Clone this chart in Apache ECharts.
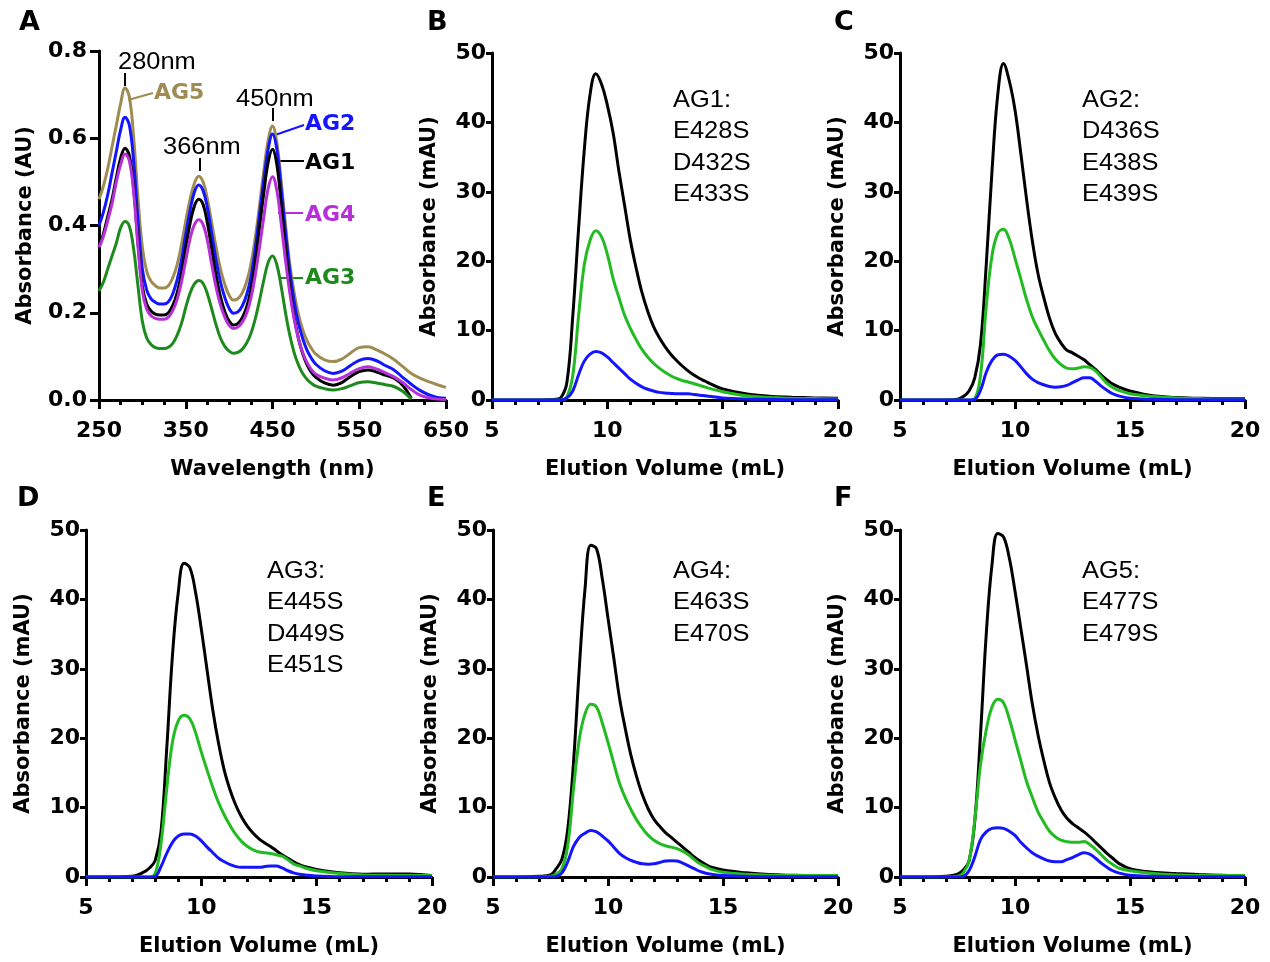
<!DOCTYPE html>
<html>
<head>
<meta charset="utf-8">
<script src="https://cdn.jsdelivr.net/npm/echarts@6/dist/echarts.min.js"></script>
<style>
html,body{margin:0;padding:0;background:#fff;}
#chart{width:1270px;height:962px;}
</style>
</head>
<body>
<div id="chart"></div>
<script>
// ---------- Panel A: absorbance spectra ----------
const wavelengthNm = [250,255,260,265,270,275,280,285,290,295,300,305,310,315,320,325,330,335,340,345,350,355,360,365,370,375,380,385,390,395,400,405,410,415,420,425,430,435,440,445,450,455,460,465,470,475,480,485,490,495,500,510,520,530,540,550,560,570,580,590,600,610,620,630,640,650];
const specAG5 = [.46,.49,.53,.58,.63,.68,.715,.695,.60,.46,.35,.295,.272,.262,.257,.257,.262,.28,.31,.355,.41,.46,.497,.513,.50,.46,.405,.35,.30,.265,.24,.229,.232,.245,.27,.31,.37,.445,.525,.595,.628,.59,.50,.40,.31,.245,.195,.16,.135,.118,.105,.092,.088,.094,.108,.12,.122,.115,.105,.093,.077,.061,.05,.042,.035,.029];
const specAG2 = [.40,.43,.47,.52,.57,.62,.648,.63,.545,.41,.30,.252,.232,.224,.22,.22,.225,.243,.275,.32,.38,.435,.477,.493,.48,.44,.38,.32,.27,.235,.21,.199,.202,.215,.24,.28,.345,.425,.505,.575,.61,.575,.485,.385,.295,.225,.175,.14,.113,.095,.082,.067,.061,.066,.079,.091,.095,.09,.079,.069,.052,.036,.022,.012,.006,.004];
const specAG1 = [.35,.38,.42,.46,.51,.555,.577,.56,.485,.36,.26,.22,.204,.197,.195,.195,.2,.217,.245,.29,.35,.405,.445,.46,.448,.405,.345,.285,.237,.203,.181,.172,.175,.188,.212,.252,.315,.395,.475,.545,.575,.54,.45,.35,.26,.19,.14,.105,.08,.063,.052,.039,.034,.04,.054,.065,.069,.064,.057,.05,.034,.004,null,null,null,null];
const specAG4 = [.35,.375,.41,.45,.50,.54,.564,.548,.475,.35,.25,.208,.193,.187,.185,.185,.19,.205,.23,.27,.32,.37,.402,.413,.402,.365,.31,.258,.218,.19,.171,.164,.167,.178,.198,.232,.285,.35,.42,.485,.512,.48,.405,.32,.245,.185,.14,.108,.085,.069,.059,.05,.046,.051,.062,.072,.076,.071,.062,.053,.04,.024,.011,.005,.002,.001];
const specAG3 = [.25,.27,.30,.33,.36,.395,.409,.398,.345,.26,.18,.142,.127,.12,.118,.118,.121,.13,.148,.175,.212,.245,.266,.274,.267,.243,.208,.172,.142,.123,.112,.107,.109,.116,.13,.152,.185,.228,.275,.315,.33,.31,.26,.2,.148,.108,.08,.06,.047,.038,.032,.026,.023,.026,.033,.04,.042,.039,.035,.031,.02,.002,null,null,null,null];
const specNames = ['AG5','AG2','AG1','AG4','AG3'];
const peakLabels = ['280nm','366nm','450nm'];

// ---------- Panels B-F: elution profiles ----------
const elutionMl = [5,6,7,7.5,7.75,8,8.25,8.5,8.75,9,9.25,9.5,9.75,10,10.25,10.5,10.75,11,11.25,11.5,11.75,12,12.25,12.5,12.75,13,13.25,13.5,13.75,14,14.25,14.5,15,16,17,18,19,20];
const B_black = [0,0,0,0.05,0.1,0.4,2.6,12,24.5,36,44,47,45.5,42.5,38.5,33,28,23,19,15.5,12.8,10.6,9.0,7.7,6.6,5.7,4.9,4.2,3.6,3.1,2.7,2.3,1.6,0.9,0.55,0.4,0.3,0.25];
const B_green = [0,0,0,0,0,0,0.5,3.5,12,19.5,23,24.4,23.5,21,17.5,14.8,12.2,10.3,8.7,7.3,6.2,5.3,4.6,4.0,3.5,3.1,2.8,2.6,2.35,2.1,1.85,1.6,1.2,0.6,0.35,0.25,0.2,0.15];
const B_blue  = [0,0,0,0,0,0,0.3,1.3,3.6,5.6,6.6,7.0,6.8,6.2,5.4,4.6,3.8,3.0,2.4,1.9,1.55,1.3,1.1,1.0,0.95,0.9,0.9,0.9,0.8,0.7,0.6,0.5,0.3,0.15,0.1,0.05,0.05,0.05];
const C_black = [0,0,0,0.1,0.5,1.3,3.2,8,19.5,33,44,48.5,46,41.8,35.6,29,23,18.2,14.8,11.8,9.6,8.2,7.2,6.8,6.3,5.8,5.1,4.4,3.6,2.9,2.3,1.9,1.3,0.6,0.35,0.25,0.2,0.2];
const C_green = [0,0,0,0,0,0,0.2,3.5,13.5,20.8,24,24.6,23.2,20.4,17.5,14.5,12,10.2,8.6,7.1,5.9,5.1,4.6,4.5,4.6,4.8,4.7,4.2,3.3,2.4,1.8,1.4,0.9,0.5,0.3,0.2,0.15,0.15];
const C_blue  = [0,0,0,0,0,0,0.1,1.4,4.0,5.7,6.5,6.6,6.3,5.7,4.8,3.8,3.0,2.5,2.2,1.95,1.85,1.9,2.1,2.5,2.9,3.2,3.2,2.7,2.0,1.4,0.9,0.6,0.25,0.1,0.05,0.05,0.05,0.05];
const D_black = [0,0,0.1,0.7,1.3,2.4,6.5,18.5,32,41,45.2,44.6,41,35.7,29.8,24,19.2,15.3,12.5,10.3,8.6,7.3,6.3,5.5,4.9,4.4,3.8,3.2,2.7,2.2,1.8,1.5,1.1,0.6,0.4,0.45,0.45,0.2];
const D_green = [0,0,0,0,0,0.5,4.8,12.7,19.5,22.5,23.3,22.8,20.8,18,15.4,12.9,10.7,8.9,7.4,6.1,5.1,4.4,3.9,3.6,3.5,3.4,3.2,3.0,2.5,1.9,1.6,1.3,0.9,0.5,0.3,0.25,0.2,0.2];
const D_blue  = [0,0,0,0,0,0.1,1.5,3.4,5.0,5.9,6.2,6.2,5.9,5.2,4.3,3.5,2.7,2.2,1.8,1.5,1.4,1.4,1.4,1.4,1.5,1.6,1.6,1.3,0.9,0.6,0.4,0.3,0.15,0.05,0.05,0.05,0.05,0.05];
const E_black = [0,0,0.1,0.3,1.2,2.6,6.9,16.5,30,41.5,47.8,47.3,43,37.3,31.6,25.8,21.4,17.5,14.4,11.8,9.8,8.3,7.3,6.4,5.7,5.0,4.3,3.6,2.9,2.3,1.8,1.4,1.0,0.6,0.35,0.25,0.2,0.2];
const E_green = [0,0,0,0.1,0.4,1.2,4.5,12.7,19.8,23.5,24.9,24.5,22.2,19.4,16.4,13.5,11.4,9.7,8.2,7.0,6.0,5.3,4.8,4.5,4.3,4.1,3.7,3.2,2.5,1.9,1.5,1.1,0.7,0.4,0.25,0.2,0.2,0.2];
const E_blue  = [0,0,0,0,0.1,0.6,2.2,4.4,5.7,6.3,6.7,6.5,5.9,5.2,4.3,3.4,2.8,2.4,2.1,1.9,1.85,1.9,2.1,2.3,2.35,2.3,2.0,1.6,1.2,0.8,0.55,0.4,0.2,0.1,0.05,0.05,0.05,0.05];
const F_black = [0,0,0.1,0.4,1.0,2.3,8,20.5,35,45,49.5,49,46,41.2,35.9,30.5,25,20.5,16.8,13.6,11.4,9.7,8.5,7.7,7.1,6.5,5.8,5.0,4.2,3.4,2.7,2.0,1.2,0.7,0.5,0.35,0.25,0.15];
const F_green = [0,0,0,0.1,0.6,2.3,8.2,16.2,21.2,24.5,25.6,25.1,22.8,19.8,16.8,13.8,11.5,9.4,7.9,6.6,5.8,5.3,5.1,5.0,5.0,5.1,4.7,4.0,3.2,2.4,1.8,1.3,0.9,0.5,0.3,0.2,0.2,0.2];
const F_blue  = [0,0,0,0,0.1,0.9,2.9,5.4,6.5,7.0,7.1,7.0,6.6,6.0,5.0,4.2,3.5,3.0,2.6,2.3,2.2,2.2,2.5,2.8,3.2,3.5,3.3,2.7,2.0,1.4,0.9,0.6,0.25,0.1,0.05,0.05,0.05,0.05];
const panelLetters = ['A','B','C','D','E','F'];
const mutantNotes = [
  ['AG1:','E428S','D432S','E433S'],
  ['AG2:','D436S','E438S','E439S'],
  ['AG3:','E445S','D449S','E451S'],
  ['AG4:','E463S','E470S'],
  ['AG5:','E477S','E479S']
];

// ---------- layout / style ----------
const BOLD = 'DejaVu Sans';
const specColors = ['#9e8c52','#1414ff','#000000','#b62fd8','#1e8a1e'];
const eluColors = ['#000000','#22bb22','#1414ff'];
const grids = [
  {left:99, top:51, width:347, height:349},
  {left:492, top:53, width:346, height:347},
  {left:900, top:53, width:345, height:347},
  {left:86, top:530, width:346, height:347},
  {left:493, top:530, width:345, height:347},
  {left:900, top:530, width:345, height:347}
];

function pairs(xs, ys){
  const out = [];
  xs.forEach((x,i)=>{ if (ys[i] !== null && ys[i] !== undefined) out.push([x, ys[i]]); });
  return out;
}
const axisLabelStyle = {color:'#000', fontFamily:BOLD, fontWeight:'bold', fontSize:22};
const nameStyle = {color:'#000', fontFamily:BOLD, fontWeight:'bold', fontSize:21};

const xAxes = [], yAxes = [], series = [];
grids.forEach((g,i)=>{
  const isA = i === 0;
  xAxes.push({
    type:'value', gridIndex:i,
    min: isA ? 250 : 5, max: isA ? 650 : 20, interval: isA ? 100 : 5,
    name: isA ? 'Wavelength (nm)' : 'Elution Volume (mL)',
    nameLocation:'middle', nameGap:59, nameTextStyle:nameStyle,
    axisLine:{show:true, onZero:false, lineStyle:{color:'#000', width:3}},
    axisTick:{show:true, inside:false, length:9, lineStyle:{color:'#000', width:3}},
    minorTick:{show:true, splitNumber: isA ? 4 : 5, length:5, lineStyle:{color:'#000', width:3}},
    axisLabel:Object.assign({margin:20}, axisLabelStyle),
    splitLine:{show:false}, minorSplitLine:{show:false}
  });
  yAxes.push({
    type:'value', gridIndex:i,
    min:0, max: isA ? 0.8 : 50, interval: isA ? 0.2 : 10,
    name: isA ? 'Absorbance (AU)' : 'Absorbance (mAU)',
    nameLocation:'middle', nameGap: isA ? 63 : 52, nameTextStyle:nameStyle,
    axisLine:{show:true, onZero:false, lineStyle:{color:'#000', width:3}},
    axisTick:{show:true, inside:false, length: isA ? 9 : 6, lineStyle:{color:'#000', width:3}},
    axisLabel:Object.assign({margin: isA ? 12 : 6, formatter: isA ? (v=>v.toFixed(1)) : (v=>String(v))}, axisLabelStyle),
    splitLine:{show:false}
  });
});

const specData = [specAG5, specAG2, specAG1, specAG4, specAG3];
specData.forEach((arr,k)=>{
  series.push({
    type:'line', name:specNames[k], xAxisIndex:0, yAxisIndex:0,
    data:pairs(wavelengthNm, arr), showSymbol:false, smooth:0.4,
    lineStyle:{color:specColors[k], width:3}, itemStyle:{color:specColors[k]},
    animation:false, z: 3 + k
  });
});
const eluSets = [
  [B_black,B_green,B_blue],[C_black,C_green,C_blue],[D_black,D_green,D_blue],
  [E_black,E_green,E_blue],[F_black,F_green,F_blue]
];
eluSets.forEach((set,p)=>{
  set.forEach((arr,k)=>{
    series.push({
      type:'line', xAxisIndex:p+1, yAxisIndex:p+1,
      data:pairs(elutionMl, arr), showSymbol:false, smooth:0.4,
      lineStyle:{color:eluColors[k], width:3}, itemStyle:{color:eluColors[k]},
      animation:false, z: 3 + k
    });
  });
});

// ---------- annotations (graphic) ----------
const graphic = [];
const letterPos = [[19,23],[427,23],[834,23],[17,499],[427,499],[834,499]];
panelLetters.forEach((t,i)=>{
  graphic.push({type:'text', x:letterPos[i][0], y:letterPos[i][1],
    style:{text:t, font:'bold 27px "DejaVu Sans"', fill:'#000', align:'left', verticalAlign:'middle', textAlign:'left', textVerticalAlign:'middle'}});
});
const notePos = [[673,100],[1082,100],[267,571],[673,571],[1082,571]];
mutantNotes.forEach((lines,p)=>{
  lines.forEach((t,j)=>{
    graphic.push({type:'text', x:notePos[p][0], y:notePos[p][1] + j*31.6, scaleX:1.06,
      style:{text:t, font:'24px "Liberation Sans"', fill:'#000', align:'left', verticalAlign:'middle', textAlign:'left', textVerticalAlign:'middle'}});
  });
});
const peakTextPos = [[118,62],[163,147],[236,99]];
const peakTicks = [[125,73,86],[200,158,171],[273,108,121]];
peakLabels.forEach((t,i)=>{
  graphic.push({type:'text', x:peakTextPos[i][0], y:peakTextPos[i][1], scaleX:1.06,
    style:{text:t, font:'24px "Liberation Sans"', fill:'#000', align:'left', verticalAlign:'middle', textAlign:'left', textVerticalAlign:'middle'}});
  graphic.push({type:'line', shape:{x1:peakTicks[i][0], y1:peakTicks[i][1], x2:peakTicks[i][0], y2:peakTicks[i][2]},
    style:{stroke:'#000', lineWidth:2}});
});
const nameLabelPos = [[154,93],[305,124],[305,163],[305,215],[305,278]];
const leaders = [[128,100,153,93],[275,135,304,125],[280,161,304,161],[278,213,303,213],[280,278,303,278]];
specNames.forEach((t,k)=>{
  graphic.push({type:'text', x:nameLabelPos[k][0], y:nameLabelPos[k][1],
    style:{text:t, font:'bold 22px "DejaVu Sans"', fill:specColors[k], align:'left', verticalAlign:'middle', textAlign:'left', textVerticalAlign:'middle'}});
  graphic.push({type:'line', shape:{x1:leaders[k][0], y1:leaders[k][1], x2:leaders[k][2], y2:leaders[k][3]},
    style:{stroke:specColors[k], lineWidth:2}});
});

const chart = echarts.init(document.getElementById('chart'), null, {renderer:'canvas'});
chart.setOption({
  backgroundColor:'#ffffff',
  animation:false,
  grid:grids,
  xAxis:xAxes,
  yAxis:yAxes,
  series:series,
  graphic:graphic
});
</script>
</body>
</html>
